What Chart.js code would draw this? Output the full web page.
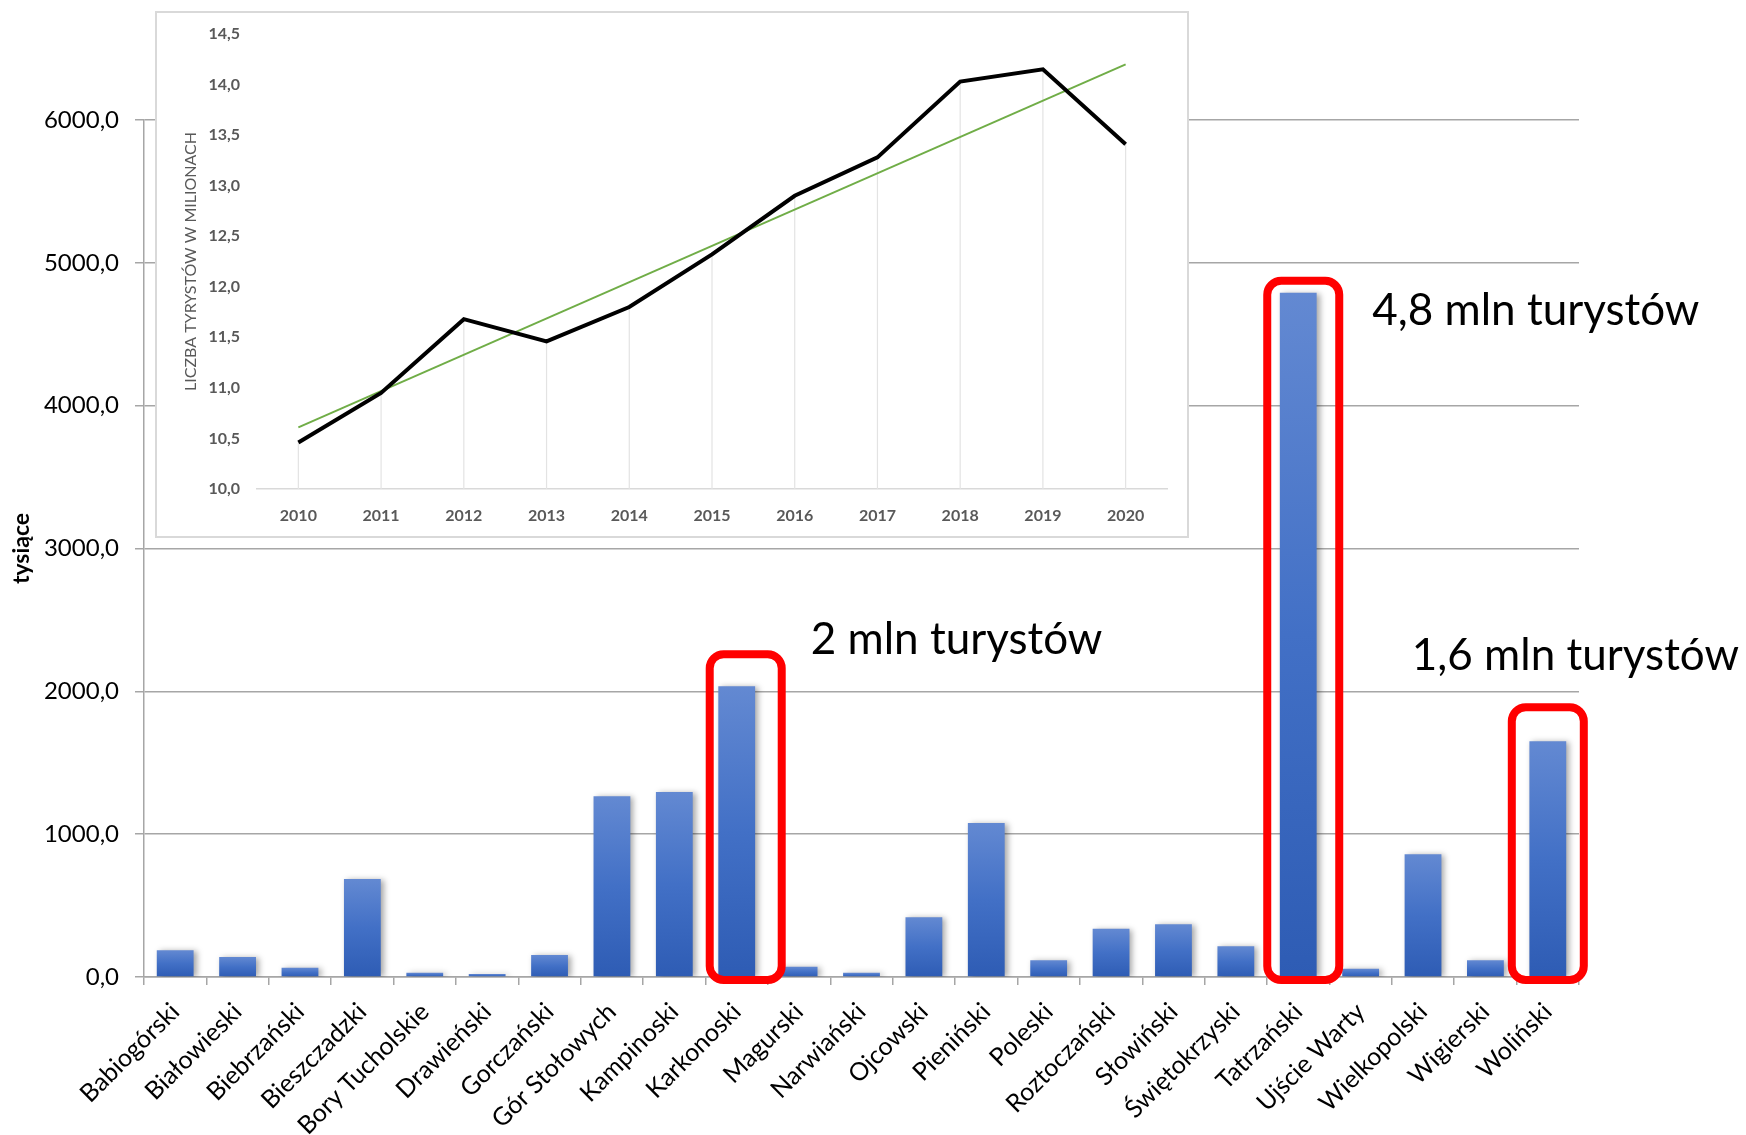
<!DOCTYPE html>
<html>
<head>
<meta charset="utf-8">
<script src="https://cdn.jsdelivr.net/npm/chart.js@4.4.1/dist/chart.umd.min.js"></script>
<style>
  html, body { margin: 0; padding: 0; background: #fff; }
  #wrap { position: relative; width: 1746px; height: 1135px; }
  #main { position: absolute; left: 0; top: 0; }
  #inset {
    position: absolute; left: 155px; top: 11px;
    width: 1034px; height: 527px;
    box-sizing: border-box; border: 2px solid #d9d9d9; background: #fff;
  }
  #trend { display: block; }
</style>
</head>
<body>
<div id="wrap">
  <canvas id="main" width="1746" height="1135"></canvas>
  <div id="inset"><canvas id="trend" width="1030" height="523"></canvas></div>
</div>
<script>
// parki narodowe - liczba odwiedzających (tys.)
const parks = ['Babiogórski', 'Białowieski', 'Biebrzański', 'Bieszczadzki', 'Bory Tucholskie',
  'Drawieński', 'Gorczański', 'Gór Stołowych', 'Kampinoski', 'Karkonoski', 'Magurski',
  'Narwiański', 'Ojcowski', 'Pieniński', 'Poleski', 'Roztoczański', 'Słowiński',
  'Świętokrzyski', 'Tatrzański', 'Ujście Warty', 'Wielkopolski', 'Wigierski', 'Woliński'];
const visitors = [188, 140, 64, 686, 29, 21, 154, 1266, 1296, 2036, 72,
  29, 419, 1079, 118, 337, 370, 216, 4790, 57, 860, 118, 1651];
const visitorTicks = ['0,0', '1000,0', '2000,0', '3000,0', '4000,0', '5000,0', '6000,0'];

// wyróżnione parki
const highlightIdx = [9, 18, 22];
const highlightText = ['2 mln turystów', '4,8 mln turystów', '1,6 mln turystów'];

// wykres wstawiony - turyści w mln
const years = ['2010', '2011', '2012', '2013', '2014', '2015', '2016', '2017', '2018', '2019', '2020'];
const tourists = [10.46, 10.95, 11.68, 11.46, 11.80, 12.32, 12.90, 13.28, 14.03, 14.15, 13.41];
const trendEnds = [10.61, 14.20];
const touristTicks = ['10,0', '10,5', '11,0', '11,5', '12,0', '12,5', '13,0', '13,5', '14,0', '14,5'];

Chart.defaults.font.family = 'Lato';

function barFill(context) {
  const chart = context.chart;
  if (!chart.chartArea || context.type !== 'data') return '#4472c4';
  const y = chart.scales.y;
  const top = y.getPixelForValue(context.raw);
  const bottom = y.getPixelForValue(0);
  if (bottom - top < 1) return '#4472c4';
  const g = chart.ctx.createLinearGradient(0, top, 0, bottom);
  g.addColorStop(0, '#6389d2');
  g.addColorStop(0.5, '#4270c6');
  g.addColorStop(1, '#2e5cb4');
  return g;
}

const barShadow = {
  id: 'barShadow',
  beforeDatasetsDraw(chart) {
    const c = chart.ctx;
    c.save();
    c.shadowColor = 'rgba(0,0,0,0.35)';
    c.shadowBlur = 6;
    c.shadowOffsetX = 3;
    c.shadowOffsetY = 1;
  },
  afterDatasetsDraw(chart) {
    chart.ctx.restore();
  }
};

// czerwone ramki i podpisy
const highlights = {
  id: 'highlights',
  afterDraw(chart) {
    const c = chart.ctx;
    const meta = chart.getDatasetMeta(0);
    const base = chart.scales.y.getPixelForValue(0);
    const shift = [9, 5, 0];
    const above = [32, 12, 34];
    const textAt = [[74, -32], [74, 32], [-136, -71]];
    c.save();
    highlightIdx.forEach((idx, k) => {
      const bar = meta.data[idx];
      const top = bar.y - above[k];
      c.beginPath();
      c.roundRect(bar.x + shift[k] - 36, top, 72, base + 3 - top, 14);
      c.lineWidth = 8;
      c.strokeStyle = '#ff0000';
      c.stroke();
      c.font = '44px Lato';
      c.fillStyle = '#000';
      c.textAlign = 'left';
      c.textBaseline = 'alphabetic';
      c.fillText(highlightText[k], bar.x + textAt[k][0], bar.y + textAt[k][1]);
    });
    c.restore();
  }
};

new Chart(document.getElementById('main'), {
  type: 'bar',
  data: {
    labels: parks,
    datasets: [{
      data: visitors,
      backgroundColor: barFill,
      categoryPercentage: 1,
      barPercentage: 0.59
    }]
  },
  options: {
    responsive: false,
    animation: false,
    layout: { padding: { left: 0, top: 120, right: 167, bottom: 0 } },
    plugins: { legend: { display: false }, tooltip: { enabled: false } },
    scales: {
      x: {
        grid: { drawOnChartArea: false, drawTicks: true, tickLength: 8, color: '#a6a6a6', lineWidth: 1.5 },
        border: { color: '#a6a6a6', width: 1.5 },
        ticks: {
          autoSkip: false, minRotation: 45, maxRotation: 45,
          color: '#000', font: { size: 25 }, padding: 12
        },
        afterFit(s) { s.height = 158; }
      },
      y: {
        min: 0, max: 6000,
        grid: { color: '#a6a6a6', lineWidth: 1.5, tickLength: 9 },
        border: { color: '#a6a6a6', width: 1.5 },
        ticks: {
          stepSize: 1000, color: '#000', font: { size: 24 }, padding: 16,
          callback: (v, i) => visitorTicks[i]
        },
        title: {
          display: true, text: 'tysiące', color: '#000',
          font: { size: 23, weight: 'bold' }, padding: { top: 8, bottom: 0 }
        },
        afterFit(s) { s.width = 144; }
      }
    }
  },
  plugins: [barShadow, highlights]
});

// linie od punktów do osi
const dropLines = {
  id: 'dropLines',
  beforeDatasetsDraw(chart) {
    const c = chart.ctx;
    const bottom = chart.chartArea.bottom;
    c.save();
    c.strokeStyle = '#e3e3e3';
    c.lineWidth = 1.2;
    chart.getDatasetMeta(0).data.forEach(p => {
      c.beginPath();
      c.moveTo(p.x, p.y);
      c.lineTo(p.x, bottom);
      c.stroke();
    });
    c.restore();
  }
};

const trendData = years.map((_, i) => i === 0 ? trendEnds[0] : (i === years.length - 1 ? trendEnds[1] : null));
const insetFont = { size: 16, weight: 'bold' };

new Chart(document.getElementById('trend'), {
  type: 'line',
  data: {
    labels: years,
    datasets: [
      { data: tourists, borderColor: '#000', borderWidth: 4, pointRadius: 0, tension: 0, order: 0 },
      { data: trendData, borderColor: '#70ad47', borderWidth: 2, pointRadius: 0, spanGaps: true, order: 1 }
    ]
  },
  options: {
    responsive: false,
    animation: false,
    layout: { padding: { left: 0, top: 21, right: 20, bottom: 0 } },
    plugins: { legend: { display: false }, tooltip: { enabled: false } },
    scales: {
      x: {
        offset: true,
        grid: { display: false },
        border: { color: '#d9d9d9', width: 1.5 },
        ticks: { color: '#595959', font: insetFont, padding: 9 },
        afterFit(s) { s.height = 47; }
      },
      y: {
        min: 10, max: 14.5,
        // niewidoczne kreski tylko odsuwają etykiety od osi
        grid: { drawOnChartArea: false, drawTicks: true, tickLength: 17, color: 'rgba(0,0,0,0)' },
        border: { display: false },
        ticks: {
          stepSize: 0.5, color: '#595959', font: insetFont, padding: 0,
          callback: (v, i) => touristTicks[i]
        },
        title: {
          display: true, text: 'LICZBA TYRYSTÓW W MILIONACH', color: '#595959',
          font: { size: 16 }, padding: { top: 24, bottom: 0 }
        },
        afterFit(s) { s.width = 100; }
      }
    }
  },
  plugins: [dropLines]
});
</script>
</body>
</html>
